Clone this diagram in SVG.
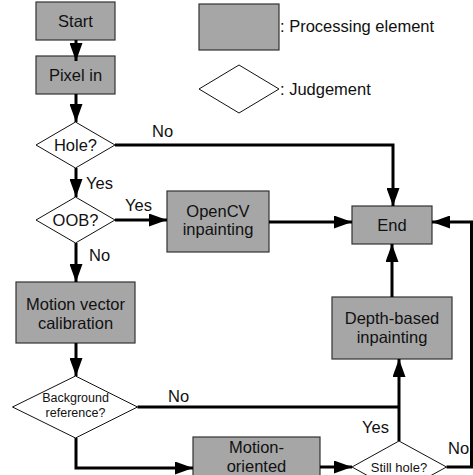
<svg xmlns="http://www.w3.org/2000/svg" width="473" height="475" viewBox="0 0 473 475">
<defs>
<style>
.box{fill:#a6a6a6;stroke:#333;stroke-width:1.2}
.dia{fill:#fff;stroke:#111;stroke-width:1}
.t{font-family:"Liberation Sans",Arial,sans-serif;font-size:16.5px;fill:#111;text-anchor:middle}
.l{font-family:"Liberation Sans",Arial,sans-serif;font-size:16.5px;fill:#111}
.s{font-size:12.5px}
.c{fill:none;stroke:#000;stroke-width:3}
</style>
<marker id="ah" viewBox="0 0 18 13" refX="18" refY="6.5" markerWidth="18" markerHeight="13" markerUnits="userSpaceOnUse" orient="auto">
<path d="M0,0 L18,6.5 L0,13 Z" fill="#000"/>
</marker>
</defs>
<rect width="473" height="475" fill="#fff"/>
<g id="legend">
<rect class="box" x="199" y="4" width="80" height="46"/>
<text class="l" x="280" y="32">: Processing element</text>
<polygon class="dia" points="199,89 239,65 279,89 239,113"/>
<text class="l" x="280" y="95">: Judgement</text>
</g>
<g id="start"><rect class="box" x="36" y="2" width="79" height="38"/><text class="t" x="75.5" y="27">Start</text></g>
<g id="pixel"><rect class="box" x="36" y="56" width="79" height="38"/><text class="t" x="75.5" y="81">Pixel in</text></g>
<g id="hole"><polygon class="dia" points="36,145 75.5,122 115,145 75.5,168"/><text class="t" x="75.5" y="151">Hole?</text></g>
<g id="oob"><polygon class="dia" points="36,220 75.5,197 115,220 75.5,243"/><text class="t" x="75.5" y="226">OOB?</text></g>
<g id="opencv"><rect class="box" x="167" y="191" width="102" height="61"/><text class="t" x="218" y="217">OpenCV</text><text class="t" x="218" y="235">inpainting</text></g>
<g id="end"><rect class="box" x="352" y="206" width="80" height="38"/><text class="t" x="392" y="231">End</text></g>
<g id="mvc"><rect class="box" x="16" y="282" width="119" height="61"/><text class="t" x="75.5" y="310">Motion vector</text><text class="t" x="75.5" y="329">calibration</text></g>
<g id="depth"><rect class="box" x="332" y="297" width="120" height="62"/><text class="t" x="392" y="324">Depth-based</text><text class="t" x="392" y="343">inpainting</text></g>
<g id="bg"><polygon class="dia" points="12.5,407 75.5,376 137.5,407 75.5,438"/><text class="t s" x="75.5" y="402">Background</text><text class="t s" x="75.5" y="417">reference?</text></g>
<g id="motion"><rect class="box" x="193" y="437" width="127" height="55"/><text class="t" x="256.5" y="453">Motion-</text><text class="t" x="256.5" y="472">oriented</text></g>
<g id="still"><polygon class="dia" points="352,467 399,441 446.5,467 399,493"/><text class="t" x="399" y="472" style="font-size:13px">Still hole?</text></g>
<g id="connectors">
<path class="c" d="M76,40 V61" marker-end="url(#ah)"/>
<path class="c" d="M76,94 V122" marker-end="url(#ah)"/>
<path class="c" d="M115,145 H393 V206" marker-end="url(#ah)"/>
<path class="c" d="M76,168 V197" marker-end="url(#ah)"/>
<path class="c" d="M115,220 H167" marker-end="url(#ah)"/>
<path class="c" d="M269,222 H352" marker-end="url(#ah)"/>
<path class="c" d="M76,243 V282" marker-end="url(#ah)"/>
<path class="c" d="M76,343 V376" marker-end="url(#ah)"/>
<path class="c" d="M137.5,407 H399"/>
<path class="c" d="M76,438 V468 H193" marker-end="url(#ah)"/>
<path class="c" d="M320,467 H352" marker-end="url(#ah)"/>
<path class="c" d="M399,441 V359" marker-end="url(#ah)"/>
<path class="c" d="M392,297 V244" marker-end="url(#ah)"/>
<path class="c" d="M446.5,467 H471.5 V222 H432" marker-end="url(#ah)"/>
</g>
<g id="labels">
<text class="l" x="152" y="137">No</text>
<text class="l" x="86" y="189">Yes</text>
<text class="l" x="125" y="211">Yes</text>
<text class="l" x="89" y="261">No</text>
<text class="l" x="168" y="402">No</text>
<text class="l" x="362" y="433">Yes</text>
<text class="l" x="448" y="454">No</text>
</g>
</svg>
